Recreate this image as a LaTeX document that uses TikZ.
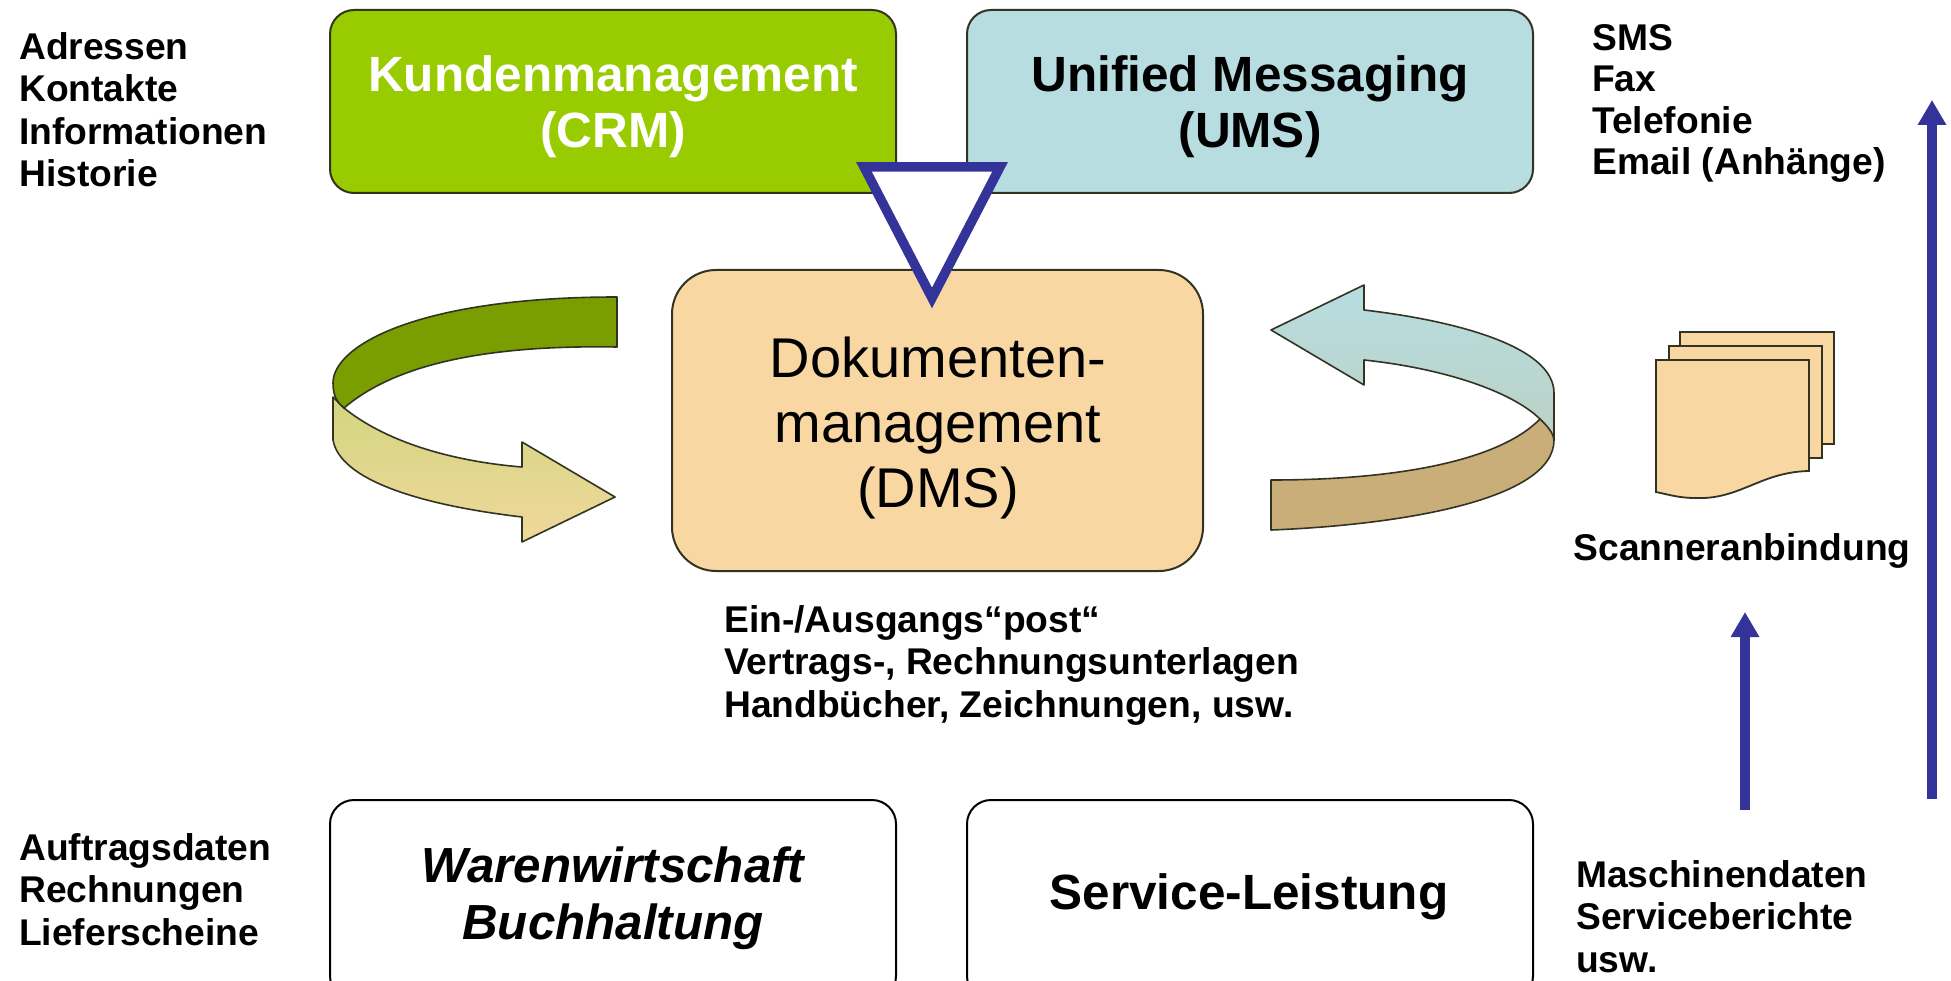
\documentclass[tikz,border=0pt]{standalone}
\usepackage{fontspec}
\setmainfont{Liberation Sans}
\usetikzlibrary{arrows.meta}
\definecolor{crmgreen}{HTML}{99CC00}
\definecolor{umsblue}{HTML}{B7DDE0}
\definecolor{dmstan}{HTML}{F8D7A2}
\definecolor{bandgreen}{HTML}{7A9E00}
\definecolor{bandtan}{HTML}{C9AE7A}
\definecolor{bandlight}{HTML}{D2D680}
\definecolor{bandpale}{HTML}{F0D79C}
\definecolor{navy}{HTML}{333399}
\definecolor{edge}{HTML}{333322}
\tikzset{
  x=1pt,y=-1pt,
  box/.style={draw=edge,line width=2pt,rounded corners=24pt},
  bandline/.style={draw=edge,line width=1.6pt,line join=round},
  sheet/.style={draw=edge,line width=1.8pt,fill=dmstan},
  sidetext/.style={font=\fontsize{37.2}{42.5}\selectfont\bfseries,align=left,anchor=north west,inner sep=0pt,text=black},
  boxtext/.style={font=\fontsize{49.5}{56}\selectfont\bfseries,align=center,inner sep=0pt},
  uparrow/.style={draw=navy,line width=10pt,-{Triangle[length=25pt,width=27pt]}},
}
\begin{document}
\begin{tikzpicture}
\useasboundingbox (0,0) rectangle (1951,981);
\fill[white] (0,0) rectangle (1951,981);
% boxes
\path[box,fill=crmgreen] (330,10) rectangle (896,193);
\path[box,fill=umsblue] (967,10) rectangle (1533,193);
\path[box,fill=dmstan,rounded corners=44pt] (672,270) rectangle (1203,571);
\path[box,draw=black] (330,800) rectangle (896,1000);
\path[box,draw=black] (967,800) rectangle (1533,1000);
% box labels
\node[boxtext,text=white] (crm) at (613,107) {Kundenmanagement\\(CRM)};
\node[boxtext,text=black] (ums) at (1250,107) {Unified Messaging\\(UMS)};
\node[font=\fontsize{56}{65}\selectfont,align=center,inner sep=0pt] (dms) at (938,428) {Dokumenten-\\management\\(DMS)};
\node[boxtext,font=\fontsize{49.3}{57}\selectfont\bfseries\itshape] (waren) at (613,898) {Warenwirtschaft\\Buchhaltung};
\node[boxtext] (service) at (1249,897) {Service-Leistung};
% triangle
\draw[navy,line width=9.5pt,fill=white,miter limit=10,line join=miter] (864,167) -- (1000,167) -- (932,298) -- cycle;
% left band
\path[bandline,top color=bandlight,bottom color=bandpale] (333,397) -- (333,440)
  .. controls (340,480) and (420,505) .. (522,517) -- (522,542) -- (615,497) -- (522,442) -- (522,467)
  .. controls (460,462) and (390,445) .. (344,408) -- cycle;
\path[bandline,fill=bandgreen] (617,297) -- (617,347)
  .. controls (500,345) and (400,360) .. (344,408)
  .. controls (338,403) and (333,397) .. (333,383)
  .. controls (333,345) and (420,297) .. (617,297) -- cycle;
% right band
\path[bandline,top color=umsblue,bottom color=bandtan!25!umsblue] (1271,330) -- (1364,285) -- (1364,310)
  .. controls (1450,320) and (1554,345) .. (1554,393) -- (1554,440)
  .. controls (1550,430) and (1545,425) .. (1540,419)
  .. controls (1510,390) and (1440,368) .. (1364,360) -- (1364,385) -- cycle;
\path[bandline,fill=bandtan] (1271,480) -- (1271,530)
  .. controls (1400,525) and (1554,500) .. (1554,440)
  .. controls (1553,432) and (1547,426) .. (1540,419)
  .. controls (1500,460) and (1400,480) .. (1271,480) -- cycle;
% document stack
\path[sheet] (1680,332) rectangle (1834,444);
\path[sheet] (1669,346) rectangle (1822,458);
\path[sheet] (1656,360) -- (1809,360) -- (1809,471)
  .. controls (1760,472) and (1740,500) .. (1695,498)
  .. controls (1680,498) and (1670,495) .. (1656,492) -- cycle;
\node[sidetext,anchor=center] (scan) at (1742,551) {Scanneranbindung};
% free labels
\node[sidetext] (l1) at (19,32) {Adressen\\Kontakte\\Informationen\\Historie};
\node[sidetext] (l2) at (1592,24) {SMS\\[-1pt]Fax\\[-1pt]Telefonie\\[-1pt]Email (Anhänge)};
\node[sidetext] (l3) at (724,605) {Ein-/Ausgangs“post“\\Vertrags-, Rechnungsunterlagen\\Handbücher, Zeichnungen, usw.};
\node[sidetext] (l4) at (19,833) {Auftragsdaten\\Rechnungen\\Lieferscheine};
\node[sidetext] (l5) at (1576,860) {Maschinendaten\\Serviceberichte\\usw.};
% arrows
\coordinate (a1s) at (1745,810);
\coordinate (a1e) at (1745,612);
\coordinate (a2s) at (1932,799);
\coordinate (a2e) at (1932,100);
\draw[uparrow] (a1s) -- (a1e);
\draw[uparrow] (a2s) -- (a2e);
\end{tikzpicture}
\end{document}
